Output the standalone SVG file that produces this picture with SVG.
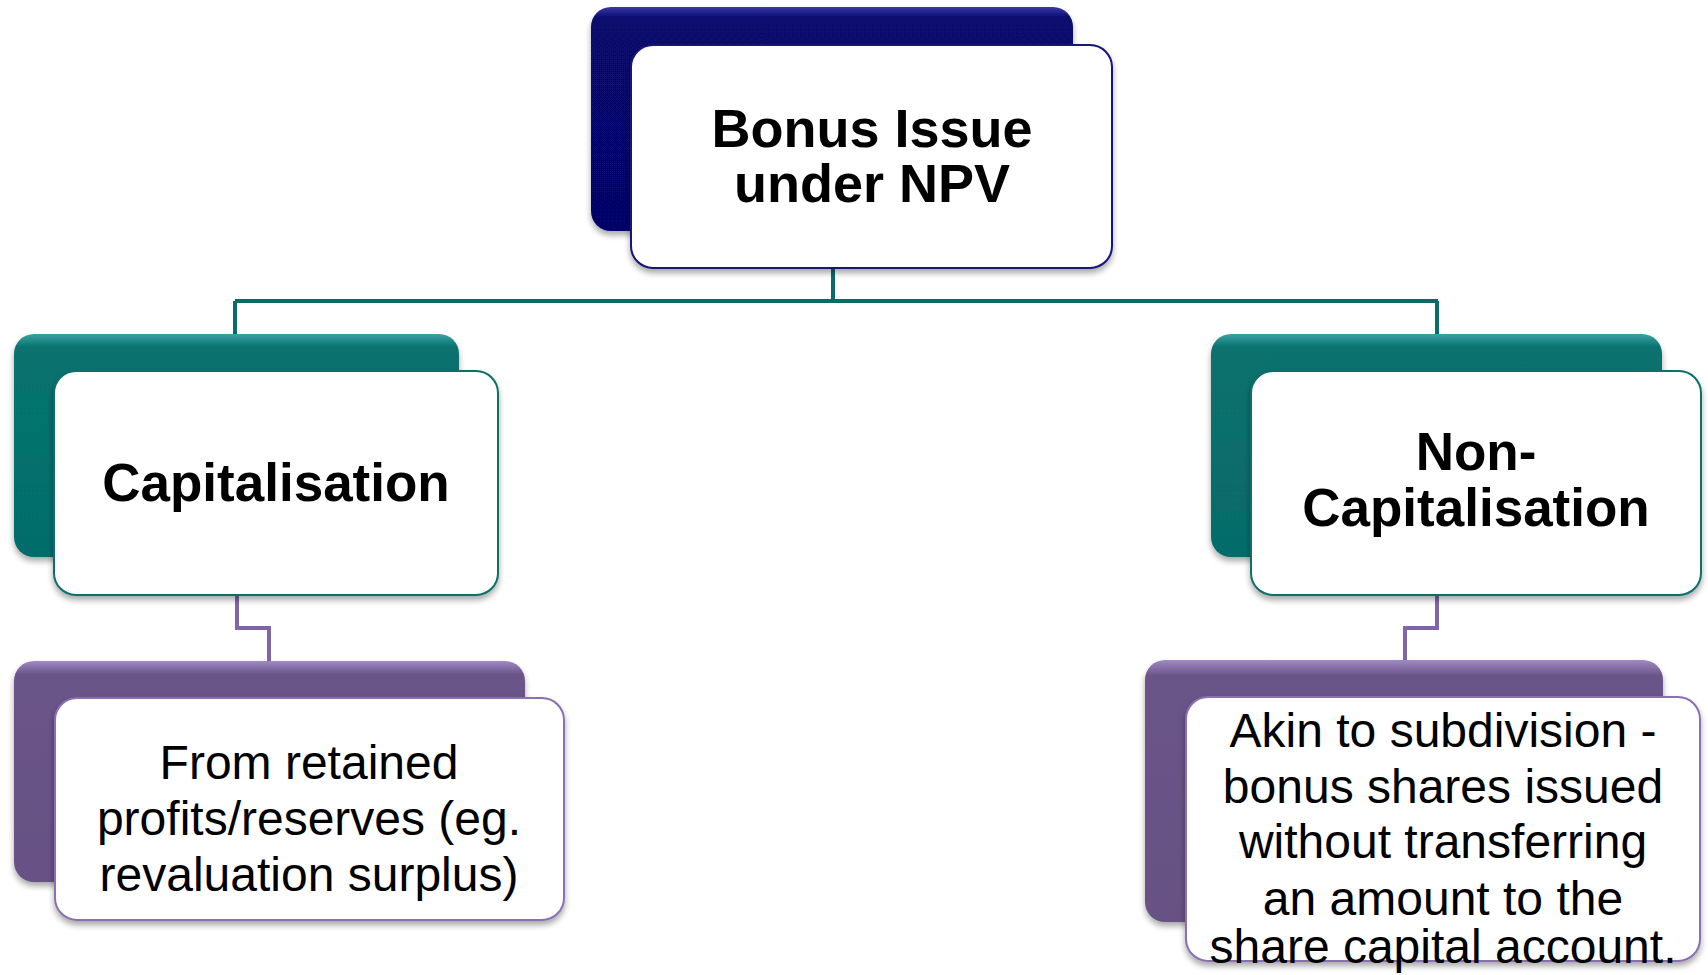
<svg xmlns="http://www.w3.org/2000/svg" width="1708" height="975" viewBox="0 0 1708 975">
  <defs>
    <filter id="shadow" x="-10%" y="-10%" width="120%" height="130%">
      <feGaussianBlur in="SourceAlpha" stdDeviation="3"/>
      <feOffset dx="0" dy="4" result="b"/>
      <feComponentTransfer><feFuncA type="linear" slope="0.35"/></feComponentTransfer>
      <feMerge><feMergeNode/><feMergeNode in="SourceGraphic"/></feMerge>
    </filter>
    <linearGradient id="gNavy" x1="0" y1="0" x2="0" y2="1">
      <stop offset="0" stop-color="#3a3aa8"/>
      <stop offset="0.05" stop-color="#07076e"/>
      <stop offset="1" stop-color="#06066a"/>
    </linearGradient>
    <linearGradient id="gTeal" x1="0" y1="0" x2="0" y2="1">
      <stop offset="0" stop-color="#3aa3a0"/>
      <stop offset="0.06" stop-color="#07716e"/>
      <stop offset="1" stop-color="#066d6a"/>
    </linearGradient>
    <linearGradient id="gPurple" x1="0" y1="0" x2="0" y2="1">
      <stop offset="0" stop-color="#a08ac4"/>
      <stop offset="0.06" stop-color="#6a5488"/>
      <stop offset="1" stop-color="#675184"/>
    </linearGradient>
  </defs>
  <style>
    .back { filter: url(#shadow); }
    .front { fill: #ffffff; stroke-width: 2; filter: url(#shadow); }
    .navy .back { fill: url(#gNavy); }
    .navy .front { stroke: #14147a; }
    .teal .back { fill: url(#gTeal); }
    .teal .front { stroke: #0b6e6b; }
    .purple .back { fill: url(#gPurple); }
    .purple .front { stroke: #8a70b2; }
    .head { font-family: "Liberation Sans", Arial, sans-serif; font-weight: bold; fill: #000; text-anchor: middle; }
    .body { font-family: "Liberation Sans", Arial, sans-serif; font-size: 48px; fill: #000; text-anchor: middle; }
    .link { fill: none; stroke-width: 4; }
    .tealLink { stroke: #0b6b69; }
    .purpleLink { stroke: #8066a8; }
  </style>

  <!-- connectors -->
  <g id="connectors">
    <path class="link tealLink" d="M833 268 V301 M235 301 H1438 M235 301 V371 M1437 301 V371"/>
    <path class="link purpleLink" d="M237 595 V628 H269 V661"/>
    <path class="link purpleLink" d="M1437 595 V628 H1405 V660"/>
  </g>

  <!-- root -->
  <g id="root" class="navy">
    <rect class="back" x="591" y="7" width="482" height="224" rx="20"/>
    <rect class="front" x="631" y="45" width="481" height="223" rx="22"/>
    <text class="head" font-size="54" x="872" y="147">Bonus Issue</text>
    <text class="head" font-size="54" x="872" y="202">under NPV</text>
  </g>

  <!-- left branch -->
  <g id="capitalisation" class="teal">
    <rect class="back" x="14" y="334" width="445" height="223" rx="20"/>
    <rect class="front" x="54" y="371" width="444" height="224" rx="22"/>
    <text class="head" font-size="53" x="276" y="501">Capitalisation</text>
  </g>

  <!-- right branch -->
  <g id="non-capitalisation" class="teal">
    <rect class="back" x="1211" y="334" width="451" height="223" rx="20"/>
    <rect class="front" x="1251" y="371" width="450" height="224" rx="22"/>
    <text class="head" font-size="53" x="1476" y="470">Non-</text>
    <text class="head" font-size="53" x="1476" y="526">Capitalisation</text>
  </g>

  <!-- left detail -->
  <g id="retained-profits" class="purple">
    <rect class="back" x="14" y="661" width="511" height="221" rx="20"/>
    <rect class="front" x="55" y="698" width="509" height="222" rx="22"/>
    <text class="body" x="309" y="779">From retained</text>
    <text class="body" x="309" y="835">profits/reserves (eg.</text>
    <text class="body" x="309" y="891">revaluation surplus)</text>
  </g>

  <!-- right detail -->
  <g id="subdivision" class="purple">
    <rect class="back" x="1145" y="660" width="518" height="262" rx="20"/>
    <rect class="front" x="1186" y="697" width="514" height="264" rx="22"/>
    <text class="body" x="1443" y="747">Akin to subdivision -</text>
    <text class="body" x="1443" y="803">bonus shares issued</text>
    <text class="body" x="1443" y="858">without transferring</text>
    <text class="body" x="1443" y="915">an amount to the</text>
    <text class="body" x="1443" y="963">share capital account.</text>
  </g>
</svg>
